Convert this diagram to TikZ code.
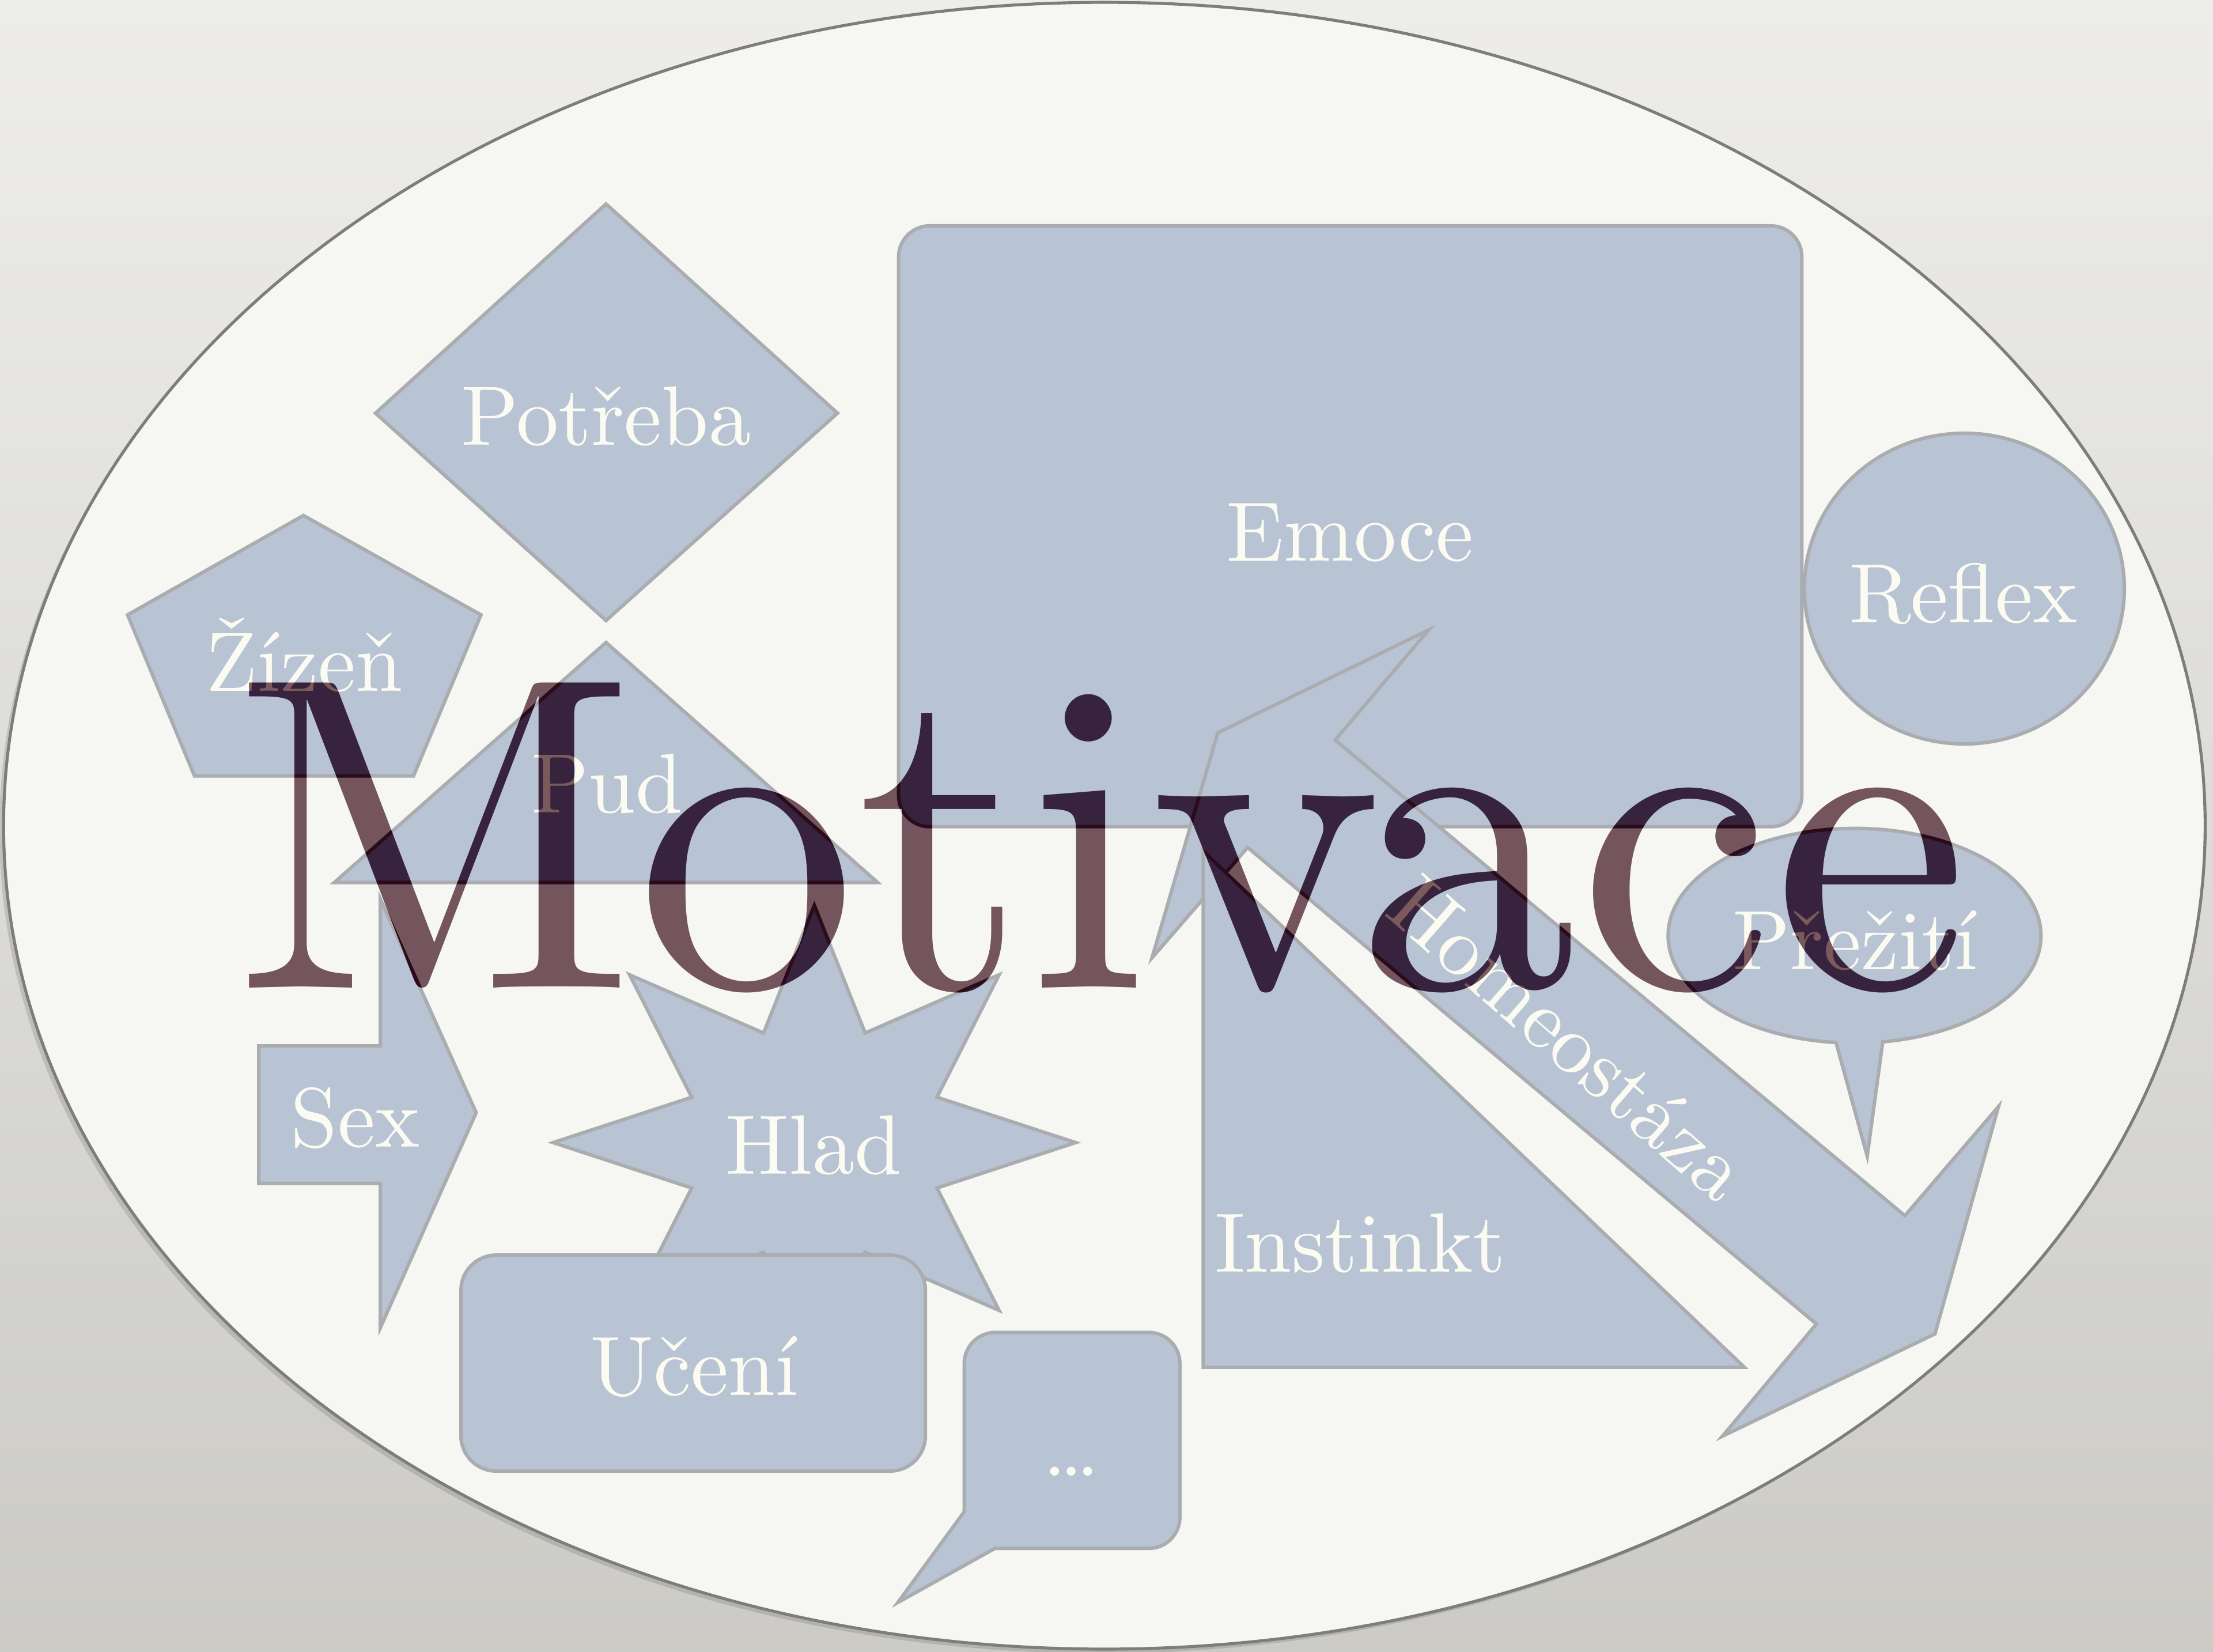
\documentclass[tikz,border=0pt]{standalone}
\usepackage{fontspec}
\setmainfont{lmroman10-regular.otf}
\definecolor{paper}{RGB}{226,225,220}
\definecolor{platefill}{RGB}{246,246,243}
\definecolor{plateline}{RGB}{125,125,125}
\definecolor{shapefill}{RGB}{184,196,212}
\definecolor{shapeline}{RGB}{170,172,176}
\definecolor{labelwhite}{RGB}{252,251,242}
\definecolor{titleink}{RGB}{129,161,150}
\begin{document}
\begin{tikzpicture}[x=0.01cm,y=-0.01cm,
    shapebox/.style={fill=shapefill,draw=shapeline,line width=0.7pt},
    shapetext/.style={text=labelwhite,font=\fontsize{17}{20}\selectfont,anchor=base,inner sep=0pt}]
    \useasboundingbox (0,0) rectangle (1568,1170);
    \shade[top color=paper!60!white,bottom color=paper!90!black] (0,0) rectangle (1568,1170);
    \fill[black,opacity=0.12] (779.5,588) ellipse [x radius=7.795cm,y radius=5.83cm];
    \draw[fill=platefill,draw=plateline,line width=0.6pt] (782.5,585) ellipse [x radius=7.795cm,y radius=5.83cm];
    % shapes
    \draw[shapebox] (429.4,144.5) -- (593.4,292.7) -- (429.4,439.6) -- (266.1,292.7) -- cycle;
    \draw[shapebox] (215,365.2) -- (340.8,435.6) -- (293,549.7) -- (137.8,549.7) -- (90.4,435.6) -- cycle;
    \draw[shapebox] (183.3,741) -- (269.5,741) -- (269.5,637) -- (337.4,788.3) -- (269.5,940.6) -- (269.5,838.4) -- (183.3,838.4) -- cycle;
    \draw[shapebox] (429.4,455.2) -- (621.8,625.2) -- (236.9,625.2) -- cycle;
    \draw[shapebox,rounded corners=0.22cm] (636.7,160) rectangle (1276.7,585.7);
    \draw[shapebox] (1391.8,417) ellipse [x radius=1.133cm,y radius=1.10cm];
    \draw[shapebox] (1323,819) -- (1334,738.1) arc[start angle=278.7,end angle=624.3,x radius=1.32cm,y radius=0.76cm] -- cycle;
    \draw[shapebox] (1012.4,446.2) -- (946,524.3) -- (1349.7,861.3) -- (1416,784) -- (1371,945) -- (1220.4,1017.5) -- (1287,938) -- (884,600.4) -- (816.3,678.5) -- (862.8,519.2) -- cycle;
    \draw[shapebox] (852.5,603) -- (1236,968.7) -- (852.5,968.7) -- cycle;
    \begin{scope}[shift={(577,809.5)}]
        \draw[shapebox] (0:1.85cm and 1.68cm) \foreach \a in {0,45,...,315} {-- (\a+22.5:0.94cm and 0.84cm) -- (\a+45:1.85cm and 1.68cm)} -- cycle;
    \end{scope}
    \draw[shapebox,rounded corners=0.25cm] (326.6,889.2) rectangle (655.7,1042.2);
    \draw[shapebox] (636.2,1135.3) -- (683.2,1071) [rounded corners=0.22cm] -- (683.2,944) -- (836,944) -- (836,1097) [sharp corners] -- (704.9,1097) -- cycle;
    % labels
    \node[shapetext] (potreba) at (429.4,315.4) {Potřeba};
    \node[shapetext] (zizen) at (215.6,489.7) {Žízeň};
    \node[shapetext] (pud) at (430,576) {Pud};
    \node[shapetext] (emoce) at (956.6,397.5) {Emoce};
    \node[shapetext] (reflex) at (1391,441.2) {Reflex};
    \node[shapetext] (preziti) at (1314.8,687) {Přežití};
    \node[shapetext] (sex) at (251.7,812.7) {Sex};
    \node[shapetext] (hlad) at (576.6,831.8) {Hlad};
    \node[shapetext] (uceni) at (492,988.7) {Učení};
    \node[shapetext] (dalsi) at (759,1045.6) {\ldots};
    \node[shapetext] (instinkt) at (963.7,901.1) {Instinkt};
    \node[shapetext,anchor=center,rotate=-41] (homeostaza) at (1112,735) {Homeostáza};
    % title
    \begin{scope}[blend mode=difference]
        \node[text=titleink,font=\fontsize{90}{100}\selectfont,anchor=base,inner sep=0pt] (motivace) at (780,700) {\scalebox{0.985}[1]{Motivace}};
    \end{scope}
\end{tikzpicture}
\end{document}
